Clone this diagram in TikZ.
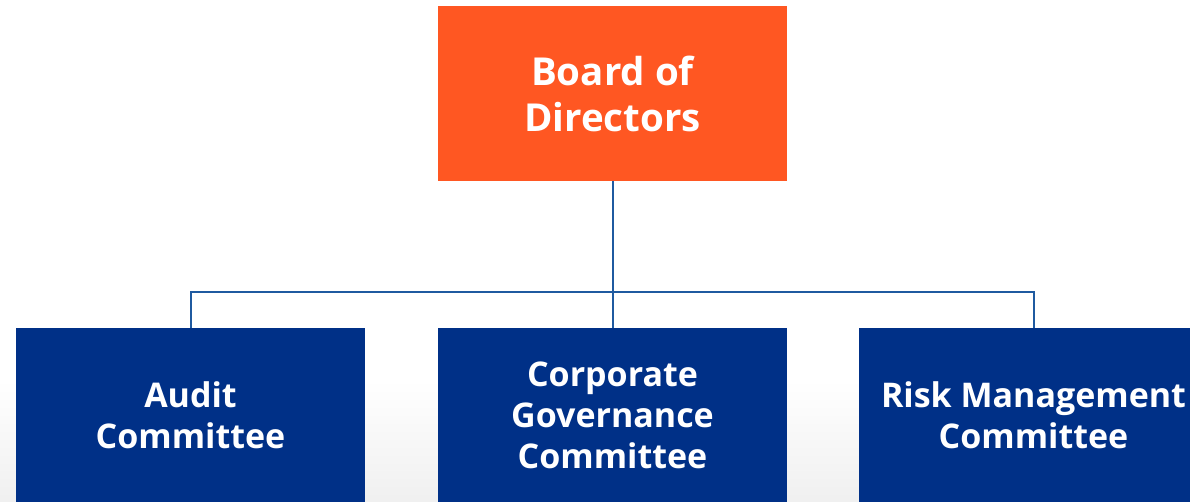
\documentclass[tikz,border=0pt]{standalone}
\usepackage{fontspec}
\setmainfont{Open Sans}
\definecolor{boardorange}{RGB}{255,87,34}
\definecolor{committeeblue}{RGB}{0,48,135}
\definecolor{linkblue}{RGB}{31,90,160}
\begin{document}
\begin{tikzpicture} [
  x=1pt, y=-1pt,
  box/.style= {rectangle,inner sep=0,minimum width=349pt,minimum height=175pt,align=center,text=white},
  board box/.style= {box,fill=boardorange,font=\bfseries\fontsize{38.5}{46}\selectfont},
  committee box/.style= {box,fill=committeeblue,font=\bfseries\fontsize{34}{41}\selectfont},
  link/.style= {draw=linkblue,line width=2pt},
]
\useasboundingbox (0,0) rectangle (1190,501);
\fill [white] (0,0) rectangle (1190,501);
\shade [top color=white,bottom color=black!6] (0,380) rectangle (1190,501);
\node (board) [board box] at (612.5,93.5) {Board of\\Directors};
\node (audit) [committee box] at (190.5,415.5) {Audit\\Committee};
\node (corp) [committee box] at (612.5,415.5) {Corporate\\Governance\\Committee};
\node (risk) [committee box] at (1033.5,415.5) {Risk Management\\Committee};
\coordinate (bus) at (612.5,292);
\draw [link] (board.south) -- (bus);
\draw [link] (audit.north) |- (bus) -| (risk.north);
\draw [link] (bus) -- (corp.north);
\end{tikzpicture}
\end{document}
